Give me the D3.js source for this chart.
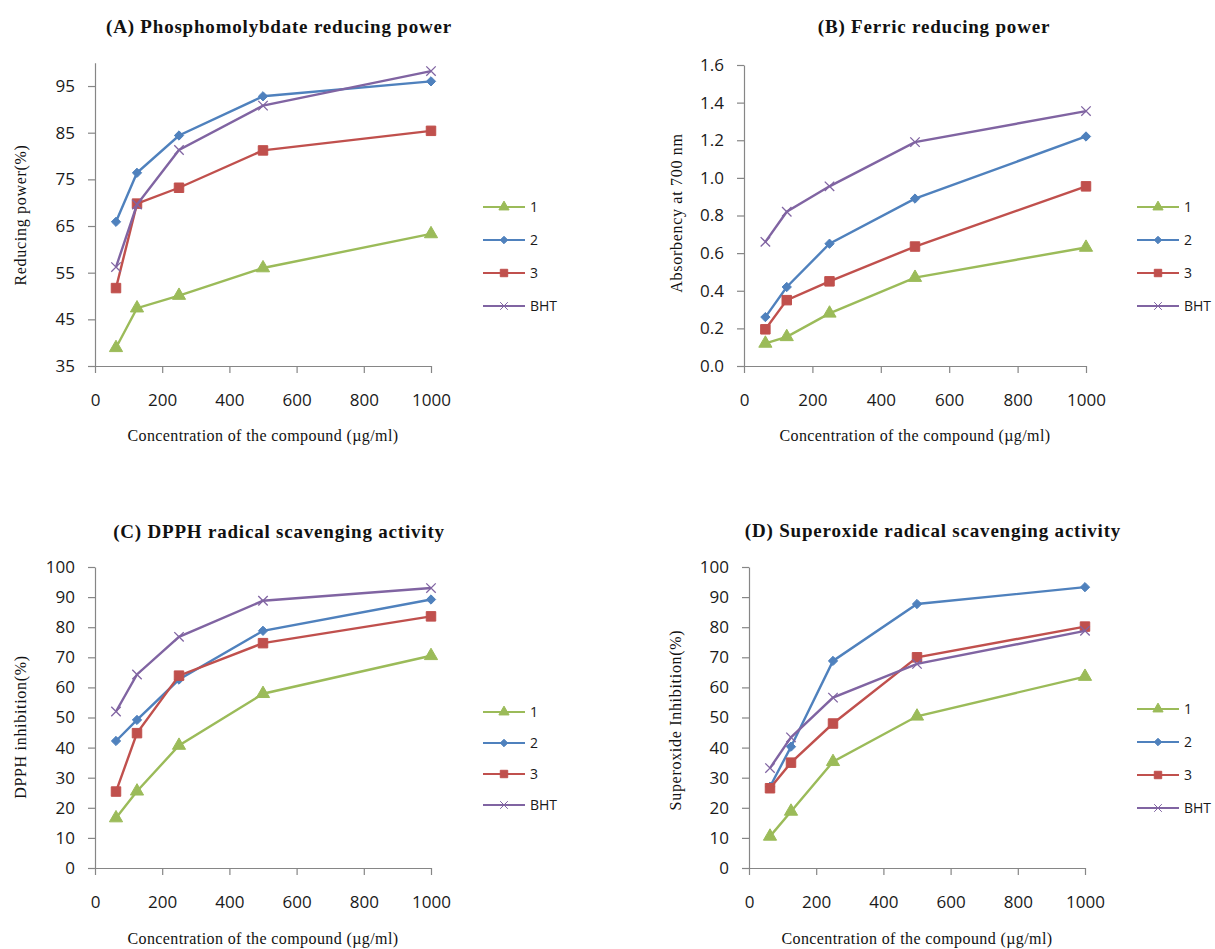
<!DOCTYPE html>
<html>
<head>
<meta charset="utf-8">
<script src="https://cdn.jsdelivr.net/npm/d3@7"></script>
<style>
  body { margin: 0; background: #fff; }
  svg { display: block; }
</style>
</head>
<body>
<svg id="chart" width="1215" height="949"></svg>
<script>
const concentrations = [62.5, 125, 250, 500, 1000]
const seriesNames = ['1', '2', '3', 'BHT']
const xTicks = [0, 200, 400, 600, 800, 1000]

// values per series, in seriesNames order
const phosphomolybdate = [
  [38.9, 47.4, 50.1, 56.0, 63.3],
  [65.9, 76.4, 84.4, 92.8, 96.0],
  [51.7, 69.8, 73.2, 81.2, 85.4],
  [56.2, 69.6, 81.3, 90.8, 98.2]
]
const ferric = [
  [0.12, 0.155, 0.28, 0.47, 0.63],
  [0.26, 0.42, 0.65, 0.89, 1.22],
  [0.195, 0.35, 0.45, 0.635, 0.955],
  [0.66, 0.82, 0.955, 1.19, 1.355]
]
const dpph = [
  [16.6, 25.5, 40.7, 57.9, 70.5],
  [42.2, 49.2, 62.6, 78.8, 89.2],
  [25.4, 44.8, 63.9, 74.7, 83.6],
  [52.0, 64.3, 76.8, 88.8, 93.0]
]
const superoxide = [
  [10.5, 18.8, 35.3, 50.4, 63.6],
  [27.0, 40.3, 68.8, 87.7, 93.3],
  [26.5, 35.0, 48.0, 70.0, 80.2],
  [33.2, 43.4, 56.6, 67.8, 78.8]
]

const colors = ['#9BBB59', '#4F81BD', '#C0504D', '#8064A2']
const symbols = [d3.symbolTriangle, d3.symbolDiamond2, d3.symbolSquare, d3.symbolTimes]
const serif = '"Liberation Serif", "Times New Roman", serif'
const sans = '"Open Sans", sans-serif'

const panels = [
  {
    title: '(A) Phosphomolybdate reducing power',
    yLabel: 'Reducing power(%)',
    values: phosphomolybdate,
    yDomain: [35, 100], yTicks: [35, 45, 55, 65, 75, 85, 95], fmt: d3.format('d'),
    x0: 95, x1: 431, y0: 366, y1: 62.7,
    titleX: 279, titleY: 33, yLabelX: 20, yLabelY: 215, xTitleY: 441,
    legX: 483, legY: 207, legStep: 33
  },
  {
    title: '(B) Ferric reducing power',
    yLabel: 'Absorbency at 700 nm',
    values: ferric,
    yDomain: [0, 1.6], yTicks: d3.range(0, 1.61, 0.2), fmt: d3.format('.1f'),
    x0: 744, x1: 1086, y0: 366, y1: 65,
    titleX: 934, titleY: 33, yLabelX: 676, yLabelY: 213, xTitleY: 441,
    legX: 1137, legY: 207, legStep: 33
  },
  {
    title: '(C) DPPH radical scavenging activity',
    yLabel: 'DPPH inhibition(%)',
    values: dpph,
    yDomain: [0, 100], yTicks: d3.range(0, 101, 10), fmt: d3.format('d'),
    x0: 95, x1: 431, y0: 868, y1: 567,
    titleX: 279, titleY: 538, yLabelX: 20, yLabelY: 727, xTitleY: 944,
    legX: 483, legY: 712, legStep: 31
  },
  {
    title: '(D) Superoxide radical scavenging activity',
    yLabel: 'Superoxide Inhibition(%)',
    values: superoxide,
    yDomain: [0, 100], yTicks: d3.range(0, 101, 10), fmt: d3.format('d'),
    x0: 749, x1: 1085, y0: 868, y1: 567,
    titleX: 933, titleY: 537, yLabelX: 675, yLabelY: 720, xTitleY: 944,
    legX: 1137, legY: 709, legStep: 33
  }
]

const svg = d3.select('#chart')
svg.append('rect').attr('width', 1215).attr('height', 949).attr('fill', '#fff')

function drawPanel (p) {
  const g = svg.append('g')
  const x = d3.scaleLinear().domain([0, 1000]).range([p.x0, p.x1])
  const y = d3.scaleLinear().domain(p.yDomain).range([p.y0, p.y1])

  const xAxis = g.append('g')
    .attr('transform', `translate(0,${p.y0})`)
    .call(d3.axisBottom(x).tickValues(xTicks).tickFormat(d3.format('d')).tickSize(7).tickSizeOuter(0).tickPadding(21))
  const yAxis = g.append('g')
    .attr('transform', `translate(${p.x0},0)`)
    .call(d3.axisLeft(y).tickValues(p.yTicks).tickFormat(p.fmt).tickSize(7).tickSizeOuter(0).tickPadding(13))

  for (const ax of [xAxis, yAxis]) {
    ax.select('.domain').attr('stroke', '#868686').attr('stroke-width', 1.2)
    ax.selectAll('.tick line').attr('stroke', '#868686').attr('stroke-width', 1.2)
    ax.selectAll('.tick text')
      .attr('fill', '#1a1a1a')
      .style('font-family', sans)
      .style('font-size', '17px')
  }

  // series lines + markers
  p.values.forEach((vals, si) => {
    const pts = concentrations.map((c, i) => [x(c), y(vals[i])])
    g.append('path')
      .attr('d', d3.line()(pts))
      .attr('fill', 'none')
      .attr('stroke', colors[si])
      .attr('stroke-width', 2.4)
    g.append('g')
      .selectAll('path')
      .data(pts)
      .join('path')
      .attr('transform', d => `translate(${d[0]},${d[1]})`)
      .attr('d', markerPath(si, false))
      .attr('fill', si === 3 ? 'none' : colors[si])
      .attr('stroke', colors[si])
      .attr('stroke-width', si === 3 ? 1.3 : 1)
  })

  // titles
  g.append('text')
    .attr('x', p.titleX).attr('y', p.titleY)
    .attr('text-anchor', 'middle')
    .style('font-family', serif)
    .style('font-weight', 'bold')
    .style('font-size', '19px')
    .style('letter-spacing', '0.8px')
    .attr('fill', '#111')
    .text(p.title)

  g.append('text')
    .attr('transform', `translate(${p.yLabelX},${p.yLabelY}) rotate(-90)`)
    .attr('text-anchor', 'middle')
    .attr('dy', '0.35em')
    .style('font-family', serif)
    .style('font-size', '16px')
    .style('letter-spacing', '0.7px')
    .attr('fill', '#111')
    .text(p.yLabel)

  g.append('text')
    .attr('x', (p.x0 + p.x1) / 2).attr('y', p.xTitleY)
    .attr('text-anchor', 'middle')
    .style('font-family', serif)
    .style('font-size', '16px')
    .style('letter-spacing', '0.4px')
    .attr('fill', '#111')
    .text('Concentration of the compound (µg/ml)')

  // legend
  const leg = g.append('g')
    .selectAll('g')
    .data(seriesNames)
    .join('g')
    .attr('transform', (d, i) => `translate(${p.legX},${p.legY + i * p.legStep})`)
  leg.append('line')
    .attr('x1', 0).attr('x2', 42)
    .attr('stroke', (d, i) => colors[i])
    .attr('stroke-width', 2)
  leg.append('path')
    .attr('transform', 'translate(21,0)')
    .attr('d', (d, i) => markerPath(i, true))
    .attr('fill', (d, i) => i === 3 ? 'none' : colors[i])
    .attr('stroke', (d, i) => colors[i])
    .attr('stroke-width', 1)
  leg.append('text')
    .attr('x', 47).attr('dy', '0.35em')
    .style('font-family', sans)
    .style('font-size', '14px')
    .attr('fill', '#1a1a1a')
    .text(d => d)
}

function markerPath (si, small) {
  const sizes = small ? [45, 36, 55, 40] : [75, 55, 90, 60]
  return d3.symbol().type(symbols[si]).size(sizes[si])()
}

panels.forEach(drawPanel)
</script>
</body>
</html>
